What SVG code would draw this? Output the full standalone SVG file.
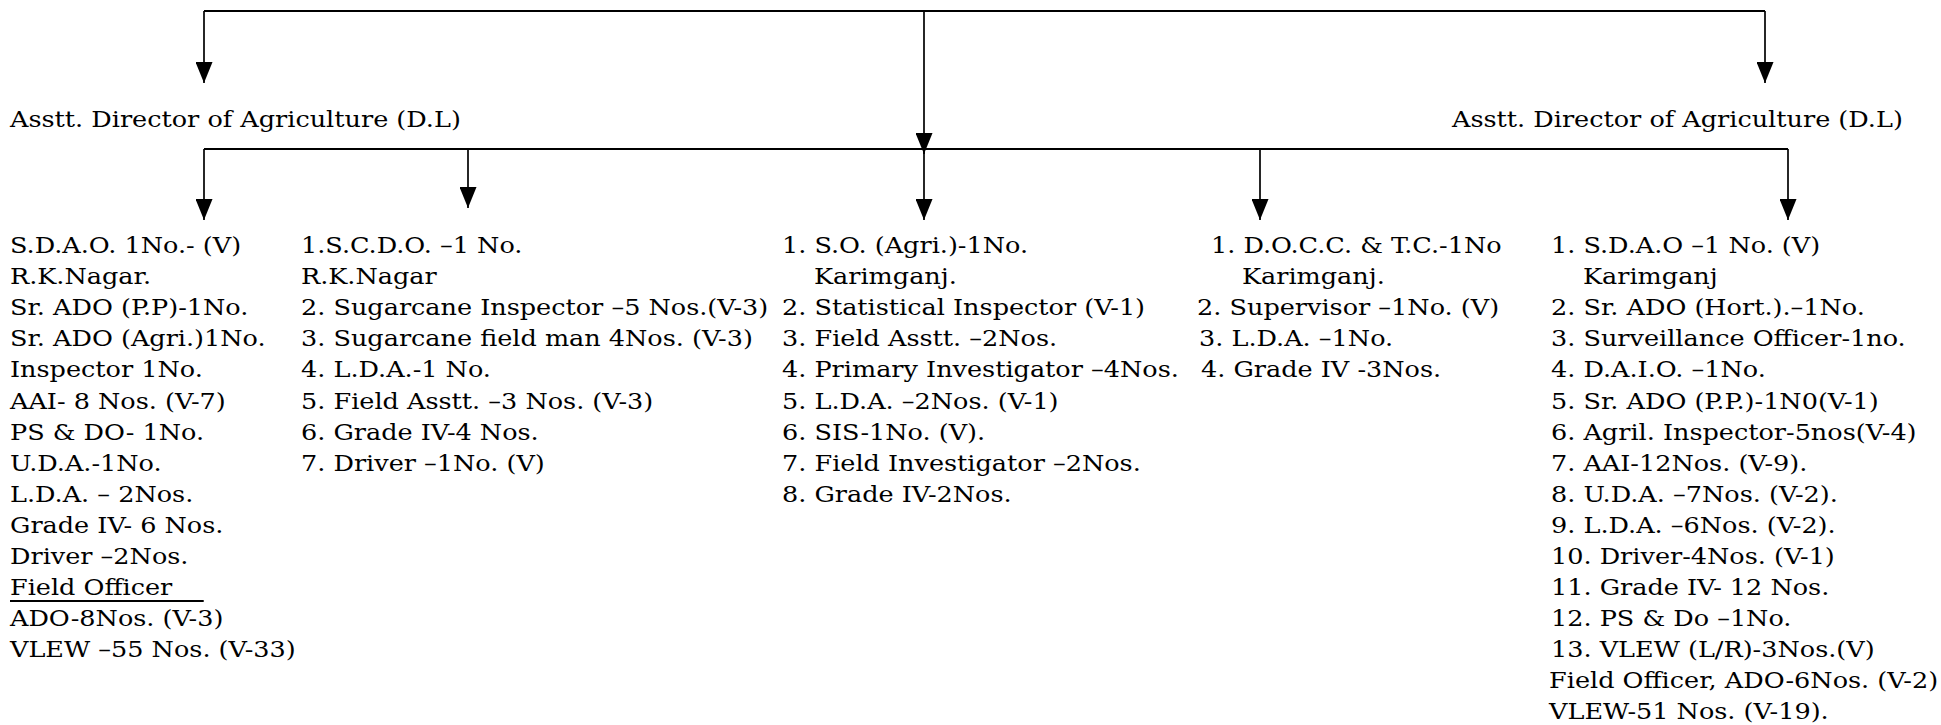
<svg xmlns="http://www.w3.org/2000/svg" width="1941" height="725" viewBox="0 0 1941 725">
<style>
.t{font-family:"DejaVu Serif","Liberation Serif",serif;font-size:22px;fill:#000}
.c{stroke:#000;stroke-width:2;fill:none}
.a{stroke:#000;stroke-width:1.7;fill:none;marker-end:url(#arr)}
</style>
<defs>
<marker id="arr" markerUnits="userSpaceOnUse" markerWidth="21" markerHeight="17" viewBox="0 0 21 17" refX="21" refY="8.5" orient="auto">
<path d="M0,0 L21,8.5 L0,17 Z" fill="#000"/>
</marker>
</defs>
<rect width="1941" height="725" fill="#fff"/>
<g id="connectors">
<path class="c" d="M204,11 H1765"/>
<path class="a" d="M204,11 V83"/>
<path class="a" d="M1765,11 V83"/>
<path class="a" d="M924,11 V154"/>
<path class="c" d="M204,149 H1788"/>
<path class="a" d="M204,149 V220"/>
<path class="a" d="M468,149 V208"/>
<path class="a" d="M924,149 V220"/>
<path class="a" d="M1260,149 V220"/>
<path class="a" d="M1788,149 V220"/>
</g>
<g id="adl" transform="translate(10,0) scale(1.16,1)"><text class="t" x="0" y="127">Asstt. Director of Agriculture (D.L)</text></g>
<g id="adr" transform="translate(1452,0) scale(1.16,1)"><text class="t" x="0" y="127">Asstt. Director of Agriculture (D.L)</text></g>
<g id="col1" transform="translate(10,0) scale(1.16,1)">
<text class="t" x="0" y="253">S.D.A.O. 1No.- (V)</text>
<text class="t" x="0" y="284">R.K.Nagar.</text>
<text class="t" x="0" y="315">Sr. ADO (P.P)-1No.</text>
<text class="t" x="0" y="346">Sr. ADO (Agri.)1No.</text>
<text class="t" x="0" y="377">Inspector 1No.</text>
<text class="t" x="0" y="409">AAI- 8 Nos. (V-7)</text>
<text class="t" x="0" y="440">PS &amp; DO- 1No.</text>
<text class="t" x="0" y="471">U.D.A.-1No.</text>
<text class="t" x="0" y="502">L.D.A. – 2Nos.</text>
<text class="t" x="0" y="533">Grade IV- 6 Nos.</text>
<text class="t" x="0" y="564">Driver –2Nos.</text>
<text class="t" x="0" y="595">Field Officer</text>
<line x1="0" y1="601" x2="167" y2="601" stroke="#000" stroke-width="2"/>
<text class="t" x="0" y="626">ADO-8Nos. (V-3)</text>
<text class="t" x="0" y="657">VLEW –55 Nos. (V-33)</text>
</g>
<g id="col2" transform="translate(301,0) scale(1.16,1)">
<text class="t" x="0" y="253">1.S.C.D.O. –1 No.</text>
<text class="t" x="0" y="284">R.K.Nagar</text>
<text class="t" x="0" y="315">2. Sugarcane Inspector –5 Nos.(V-3)</text>
<text class="t" x="0" y="346">3. Sugarcane field man 4Nos. (V-3)</text>
<text class="t" x="0" y="377">4. L.D.A.-1 No.</text>
<text class="t" x="0" y="409">5. Field Asstt. –3 Nos. (V-3)</text>
<text class="t" x="0" y="440">6. Grade IV-4 Nos.</text>
<text class="t" x="0" y="471">7. Driver –1No. (V)</text>
</g>
<g id="col3" transform="translate(782,0) scale(1.16,1)">
<text class="t" x="0" y="253">1. S.O. (Agri.)-1No.</text>
<text class="t" x="27.6" y="284">Karimganj.</text>
<text class="t" x="0" y="315">2. Statistical Inspector (V-1)</text>
<text class="t" x="0" y="346">3. Field Asstt. –2Nos.</text>
<text class="t" x="0" y="377">4. Primary Investigator –4Nos.</text>
<text class="t" x="0" y="409">5. L.D.A. –2Nos. (V-1)</text>
<text class="t" x="0" y="440">6. SIS-1No. (V).</text>
<text class="t" x="0" y="471">7. Field Investigator –2Nos.</text>
<text class="t" x="0" y="502">8. Grade IV-2Nos.</text>
</g>
<g id="col4" transform="translate(1211,0) scale(1.16,1)">
<text class="t" x="0" y="253">1. D.O.C.C. &amp; T.C.-1No</text>
<text class="t" x="26.7" y="284">Karimganj.</text>
<text class="t" x="-12" y="315">2. Supervisor –1No. (V)</text>
<text class="t" x="-10.3" y="346">3. L.D.A. –1No.</text>
<text class="t" x="-8.6" y="377">4. Grade IV -3Nos.</text>
</g>
<g id="col5" transform="translate(1551,0) scale(1.16,1)">
<text class="t" x="0" y="253">1. S.D.A.O –1 No. (V)</text>
<text class="t" x="27.6" y="284">Karimganj</text>
<text class="t" x="0" y="315">2. Sr. ADO (Hort.).–1No.</text>
<text class="t" x="0" y="346">3. Surveillance Officer-1no.</text>
<text class="t" x="0" y="377">4. D.A.I.O. –1No.</text>
<text class="t" x="0" y="409">5. Sr. ADO (P.P.)-1N0(V-1)</text>
<text class="t" x="0" y="440">6. Agril. Inspector-5nos(V-4)</text>
<text class="t" x="0" y="471">7. AAI-12Nos. (V-9).</text>
<text class="t" x="0" y="502">8. U.D.A. –7Nos. (V-2).</text>
<text class="t" x="0" y="533">9. L.D.A. –6Nos. (V-2).</text>
<text class="t" x="0" y="564">10. Driver-4Nos. (V-1)</text>
<text class="t" x="0" y="595">11. Grade IV- 12 Nos.</text>
<text class="t" x="0" y="626">12. PS &amp; Do –1No.</text>
<text class="t" x="0" y="657">13. VLEW (L/R)-3Nos.(V)</text>
<text class="t" x="-1.7" y="688">Field Officer, ADO-6Nos. (V-2)</text>
<text class="t" x="-1.7" y="719">VLEW-51 Nos. (V-19).</text>
</g>
</svg>
